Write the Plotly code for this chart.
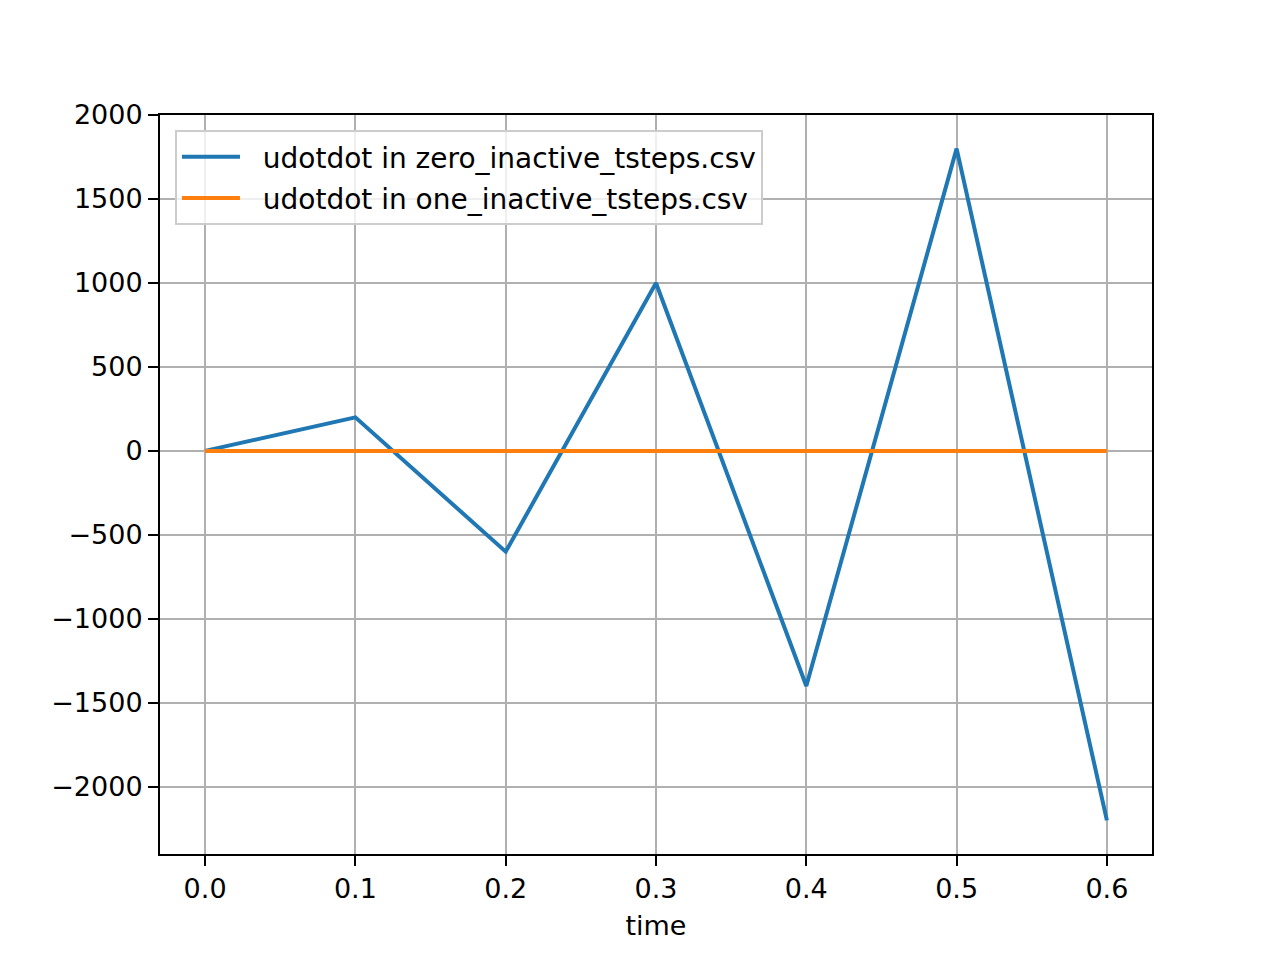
import plotly.graph_objects as go

time = [0.0, 0.1, 0.2, 0.3, 0.4, 0.5, 0.6]
udotdot_zero = [0, 200, -600, 1000, -1400, 1800, -2200]
udotdot_one = [0, 0, 0, 0, 0, 0, 0]
x_ticks = [0.0, 0.1, 0.2, 0.3, 0.4, 0.5, 0.6]
x_labels = ["0.0", "0.1", "0.2", "0.3", "0.4", "0.5", "0.6"]
y_ticks = [-2000, -1500, -1000, -500, 0, 500, 1000, 1500, 2000]
y_labels = ["\u22122000", "\u22121500", "\u22121000", "\u2212500", "0", "500", "1000", "1500", "2000"]
series_names = ["udotdot in zero_inactive_tsteps.csv", "udotdot in one_inactive_tsteps.csv"]

FS = 27
PAD = "\u00a0\u00a0"

fig = go.Figure()
fig.add_trace(go.Scatter(x=time, y=udotdot_zero, mode="lines",
                         line=dict(color="#1f77b4", width=4),
                         name=PAD + series_names[0], legendgroup="a"))
fig.add_trace(go.Scatter(x=time, y=udotdot_one, mode="lines",
                         line=dict(color="#ff7f0e", width=4),
                         name=PAD + series_names[1], legendgroup="b"))

axis_common = dict(showline=True, linecolor="black", linewidth=2, mirror=True,
                   showgrid=True, gridcolor="#b0b0b0", gridwidth=2,
                   ticks="outside", ticklen=10, tickwidth=2, tickcolor="black",
                   zeroline=False, tickfont=dict(size=FS, color="black"))

fig.update_layout(
    width=1280, height=960,
    margin=dict(l=152, r=136, t=107, b=114),
    paper_bgcolor="white", plot_bgcolor="white",
    font=dict(family="DejaVu Sans", size=FS, color="black"),
    xaxis=dict(range=[-0.03, 0.63], tickvals=x_ticks, ticktext=x_labels,
               title=dict(text="time", font=dict(size=FS), standoff=13), **axis_common),
    yaxis=dict(range=[-2400, 2000], tickvals=y_ticks, ticktext=y_labels, **axis_common),
    showlegend=True,
    legend=dict(x=0.0151, y=0.9797, xanchor="left", yanchor="top",
                bgcolor="rgba(255,255,255,0.8)", bordercolor="#cccccc", borderwidth=2,
                font=dict(size=28), traceorder="grouped", tracegroupgap=2,
                itemwidth=58),
)

fig.write_html("out.html")
